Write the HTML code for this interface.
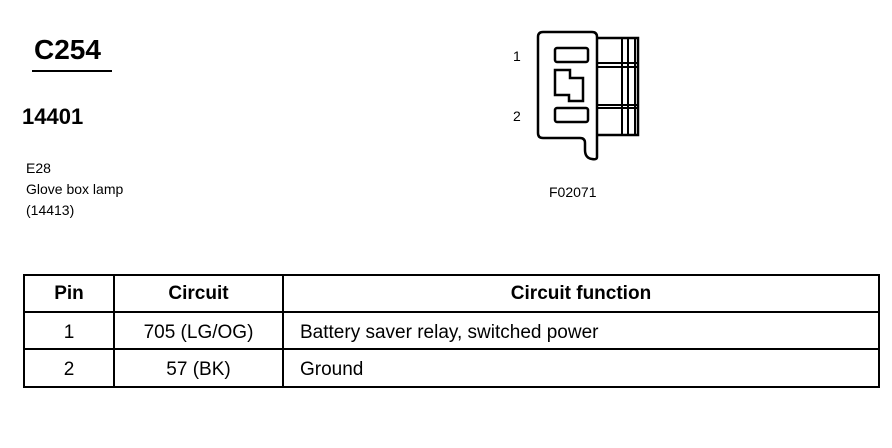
<!DOCTYPE html>
<html><head><style>
body{margin:0;background:#fff;width:892px;height:448px;overflow:hidden;position:relative;font-family:"Liberation Sans",Arial,sans-serif;color:#000}
.t{position:absolute;white-space:nowrap}
table{position:absolute;left:23px;top:274px;border-collapse:collapse;font-size:19px}
td{border:2px solid #000;text-align:center;padding:0}
tr.d td{padding-top:7px;line-height:26px;vertical-align:top}
</style></head><body>
<div class="t" style="left:34px;top:34px;font-size:28px;font-weight:bold">C254</div>
<div style="position:absolute;left:32px;top:70px;width:80px;height:2px;background:#000"></div>
<div class="t" style="left:22px;top:104px;font-size:22px;font-weight:bold">14401</div>
<div class="t" style="left:26px;top:158px;font-size:14px;line-height:21px">E28<br>Glove box lamp<br>(14413)</div>
<div class="t" style="left:549px;top:184px;font-size:14px">F02071</div>
<div class="t" style="left:513px;top:48px;font-size:14px">1</div>
<div class="t" style="left:513px;top:108px;font-size:14px">2</div>
<svg style="position:absolute;left:0;top:0" width="892" height="448">
<g fill="none" stroke="#000" stroke-width="2.5">
<path d="M543,32 H592 Q597,32 597,37 V157 Q597,160 592,159 Q585,158 585,150 V143 Q585,138 580,138 H543 Q538,138 538,133 V37 Q538,32 543,32 Z"/>
<path d="M597,38 H638 V135 H597"/>
<path d="M597,63 H638 M597,67 H638 M597,105 H638 M597,108 H638 M622,38 V135 M628,38 V135 M635,38 V135" stroke-width="2"/>
<rect x="555" y="48" width="33" height="14" rx="2"/>
<rect x="555" y="108" width="33" height="14" rx="2"/>
<path d="M555,70 H570 V78 H583 V101 H569 V95 H555 Z"/>
</g></svg>
<table>
<tr style="height:37px;font-weight:bold"><td style="width:88px">Pin</td><td style="width:167px">Circuit</td><td style="width:594px">Circuit function</td></tr>
<tr class="d" style="height:37px"><td>1</td><td>705 (LG/OG)</td><td style="text-align:left;padding-left:16px">Battery saver relay, switched power</td></tr>
<tr class="d" style="height:38px"><td>2</td><td>57 (BK)</td><td style="text-align:left;padding-left:16px">Ground</td></tr>
</table>
</body></html>
